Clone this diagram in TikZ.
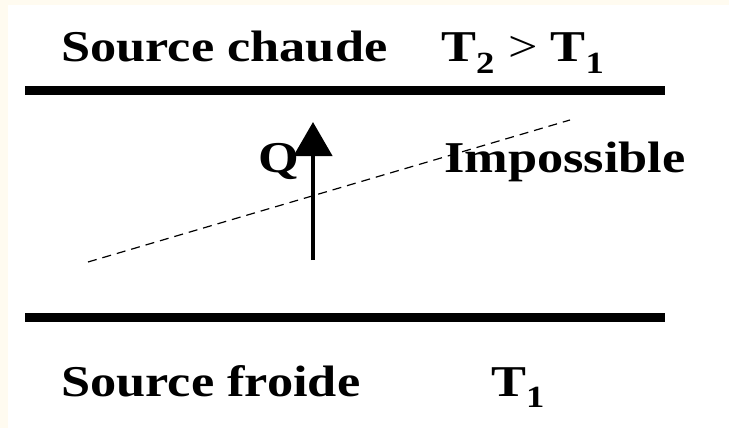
\documentclass[tikz,border=0pt]{standalone}
\usepackage{fontspec}
\setmainfont[FakeStretch=1.19]{Liberation Serif}
\usetikzlibrary{arrows.meta}
\definecolor{cream}{HTML}{FFFBF0}
\tikzset{
  lbl/.style={anchor=base west, inner sep=0pt, font=\fontsize{44}{44}\selectfont\bfseries},
  wall/.style={line width=9pt},
  heat/.style={line width=4.5pt, -{Triangle[length=34pt,width=38pt]}},
  cross/.style={line width=1.2pt, dash pattern=on 9pt off 6pt}
}
\begin{document}
\begin{tikzpicture}[x=1pt,y=-1pt]
\useasboundingbox (0,0) rectangle (729,428);
\fill[cream] (0,0) rectangle (729,428);
\fill[white] (8,5) rectangle (729,428);
% walls
\coordinate (h1) at (25,91); \coordinate (h2) at (665,91);
\coordinate (c1) at (25,317); \coordinate (c2) at (665,317);
\draw[wall] (h1) -- (h2);
\draw[wall] (c1) -- (c2);
% labels
\node[lbl] (hot) at (61,62) {Source chaude};
\node[lbl] (temp) at (441,62) {T\textsubscript{2} {\mdseries >} T\textsubscript{1}};
\node[lbl] (cold) at (61,396) {Source froide};
\node[lbl] (tcold) at (491,396) {T\textsubscript{1}};
\node[lbl] (q) at (258,172) {Q};
% arrow
\coordinate (a1) at (313,260); \coordinate (a2) at (313,122);
\draw[heat] (a1) -- (a2);
% dashed crossing line
\coordinate (d1) at (88,262); \coordinate (d2) at (570,120);
\draw[cross] (d1) -- (d2);
\node[lbl] (imp) at (444,172) {Impossible};
\end{tikzpicture}
\end{document}
